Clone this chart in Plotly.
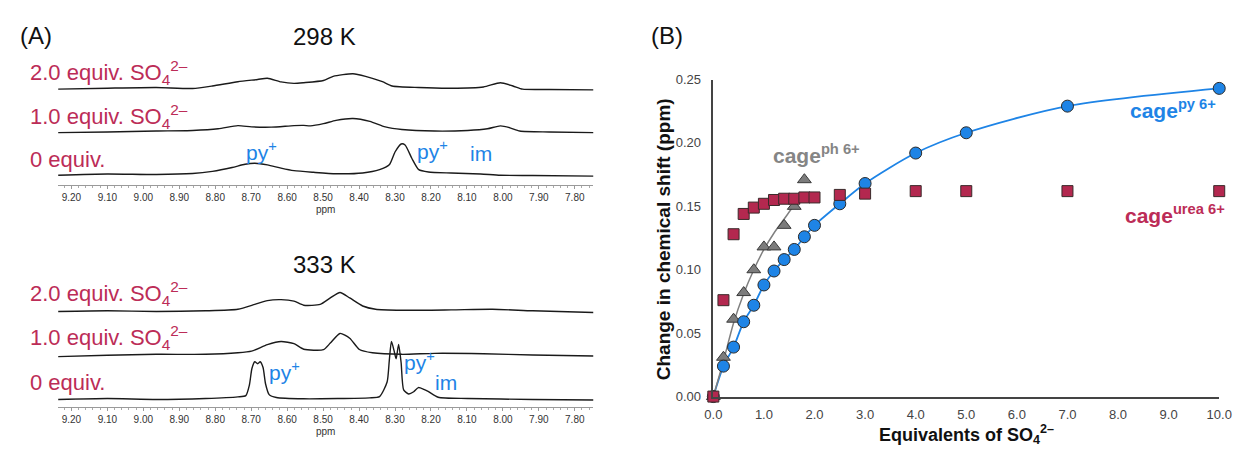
import plotly.graph_objects as go

# ---------------- DATA ----------------
# Panel A: 1H NMR traces (ppm, intensity, arbitrary units)
ppm_298_0 = [9.237, 9.100, 8.964, 8.863, 8.808, 8.753, 8.717, 8.690, 8.655, 8.617, 8.581, 8.527, 8.464, 8.390,
             8.343, 8.316, 8.300, 8.283, 8.272, 8.253, 8.234, 8.207, 8.144, 8.062, 8.007, 7.917, 7.748]
int_298_0 = [2, 3.3, 2.7, 3.7, 6, 10, 13.3, 14.3, 12.7, 9.3, 6.7, 5, 3.5, 4.3,
             7.7, 12.7, 26, 34.3, 33.3, 19.3, 7.7, 5.3, 4.3, 3.3, 2, 1.7, 1]

ppm_298_1 = [9.237, 9.100, 8.964, 8.863, 8.792, 8.737, 8.699, 8.644, 8.581, 8.554, 8.535, 8.499, 8.464, 8.417,
             8.370, 8.327, 8.281, 8.190, 8.098, 8.043, 8.007, 7.980, 7.953, 7.871, 7.748]
int_298_1 = [1, 1.7, 2.7, 3.3, 5, 8.3, 7, 6.7, 8.3, 8.5, 8.0, 10.3, 13.7, 15.7,
             12.7, 7, 4.3, 2.7, 3.3, 5, 8, 6, 2.7, 1.7, 1]

ppm_298_2 = [9.237, 9.100, 8.964, 8.863, 8.808, 8.737, 8.682, 8.655, 8.617, 8.581, 8.554, 8.499, 8.472, 8.417,
             8.382, 8.335, 8.308, 8.234, 8.144, 8.054, 8.007, 7.972, 7.945, 7.871, 7.748]
int_298_2 = [1, 2, 2.7, 1.7, 4.3, 8.7, 11, 12.3, 8.5, 7, 7.7, 10, 14.3, 17,
             14.3, 8.7, 4.3, 2.7, 2, 3.3, 7.7, 4.3, 1, 0.7, 0.3]

ppm_333_0 = [9.237, 9.100, 8.964, 8.827, 8.737, 8.715, 8.705, 8.698, 8.690, 8.682, 8.675, 8.667, 8.660, 8.650,
             8.630, 8.554, 8.371, 8.343, 8.322, 8.316, 8.310, 8.303, 8.297, 8.290, 8.283, 8.276, 8.262, 8.248,
             8.235, 8.220, 8.208, 8.180, 8.098, 7.917, 7.748]
int_333_0 = [0, 1, 0, 1, 2.7, 4, 15, 32, 39, 37, 39, 33, 16, 5,
             2, 0.7, 1.7, 3, 18, 40, 60, 51, 42, 57, 38, 10, 5.7, 8,
             12.3, 10.5, 8.3, 2.3, 1, 0, -0.5]

ppm_333_1 = [9.237, 9.100, 8.964, 8.827, 8.737, 8.699, 8.655, 8.617, 8.581, 8.554, 8.499, 8.480, 8.453, 8.426,
             8.399, 8.363, 8.281, 8.190, 8.054, 7.917, 7.748]
int_333_1 = [-0.7, 0.7, 1.7, 1.7, 3.3, 5, 11.7, 15, 12.7, 7, 6.5, 13.3, 23.3, 18.3,
             6.7, 3.3, 1.7, 2.7, 2.3, 1, 0]

ppm_333_2 = [9.237, 9.100, 8.964, 8.827, 8.737, 8.690, 8.655, 8.617, 8.581, 8.554, 8.508, 8.480, 8.453, 8.426,
             8.390, 8.354, 8.281, 8.144, 8.029, 7.917, 7.748]
int_333_2 = [1, 1.7, 1, 1.7, 3.3, 8.3, 12.3, 13.3, 11.7, 7.5, 8.3, 15, 20.7, 15,
             6.7, 3.3, 2.3, 2.7, 3.3, 1.7, 0]

nmr_ticks = [9.2, 9.1, 9.0, 8.9, 8.8, 8.7, 8.6, 8.5, 8.4, 8.3, 8.2, 8.1, 8.0, 7.9, 7.8]
nmr_ticktext = ["9.20", "9.10", "9.00", "8.90", "8.80", "8.70", "8.60", "8.50", "8.40", "8.30",
                "8.20", "8.10", "8.00", "7.90", "7.80"]
trace_labels = ["2.0 equiv. SO<sub>4</sub><sup>2\u2013</sup>", "1.0 equiv. SO<sub>4</sub><sup>2\u2013</sup>", "0 equiv."]

# Panel B: titration data
eq_py = [0, 0.2, 0.4, 0.6, 0.8, 1.0, 1.2, 1.4, 1.6, 1.8, 2.0, 2.5, 3.0, 4.0, 5.0, 7.0, 10.0]
shift_py = [0, 0.024, 0.039, 0.059, 0.072, 0.088, 0.099, 0.108, 0.116, 0.126, 0.135, 0.152, 0.168,
            0.192, 0.208, 0.229, 0.243]

eq_urea = [0, 0.2, 0.4, 0.6, 0.8, 1.0, 1.2, 1.4, 1.6, 1.8, 2.0, 2.5, 3.0, 4.0, 5.0, 7.0, 10.0]
shift_urea = [0, 0.076, 0.128, 0.144, 0.149, 0.152, 0.155, 0.156, 0.156, 0.157, 0.157, 0.159, 0.160,
              0.162, 0.162, 0.162, 0.162]

eq_ph = [0, 0.2, 0.4, 0.6, 0.8, 1.0, 1.2, 1.4, 1.6, 1.8]
shift_ph = [0, 0.031, 0.061, 0.082, 0.100, 0.118, 0.118, 0.135, 0.150, 0.171]
fit_ph_x = [0, 0.2, 0.4, 0.6, 0.8, 1.0, 1.2, 1.4, 1.6, 1.8]
fit_ph_y = [0, 0.028, 0.058, 0.081, 0.100, 0.116, 0.129, 0.140, 0.151, 0.161]

b_xticks = [0, 1, 2, 3, 4, 5, 6, 7, 8, 9, 10]
b_xticktext = ["0.0", "1.0", "2.0", "3.0", "4.0", "5.0", "6.0", "7.0", "8.0", "9.0", "10.0"]
b_yticks = [0, 0.05, 0.10, 0.15, 0.20, 0.25]
b_yticktext = ["0.00", "0.05", "0.10", "0.15", "0.20", "0.25"]

# ---------------- STYLE ----------------
W, H = 1245, 450
FONT = "Arial, Liberation Sans, sans-serif"
CRIMSON = "#BC2C57"
SQ = "#B3284F"
BLUE = "#1E84E6"
GRAY = "#7C7C7C"


def px(x):
    return x / W


def py(y):
    return 1 - y / H


fig = go.Figure()

# NMR panels
offsets = [98, 53, 8]  # stacking offsets of 2.0 / 1.0 / 0 equiv traces
sets = [
    ("x", "y", [(ppm_298_2, int_298_2), (ppm_298_1, int_298_1), (ppm_298_0, int_298_0)]),
    ("x2", "y2", [(ppm_333_2, int_333_2), (ppm_333_1, int_333_1), (ppm_333_0, int_333_0)]),
]
for xa, ya, trs in sets:
    for (pp, ii), off in zip(trs, offsets):
        fig.add_trace(go.Scatter(x=pp, y=[v + off for v in ii], mode="lines", xaxis=xa, yaxis=ya,
                                 line=dict(color="#1a1a1a", width=1.4, shape="spline", smoothing=0.6),
                                 showlegend=False, hoverinfo="skip"))

# Panel B
fig.add_trace(go.Scatter(x=eq_py, y=shift_py, mode="lines", xaxis="x3", yaxis="y3",
                         line=dict(color=BLUE, width=1.8, shape="spline", smoothing=0.8),
                         showlegend=False))
fig.add_trace(go.Scatter(x=fit_ph_x, y=fit_ph_y, mode="lines", xaxis="x3", yaxis="y3",
                         line=dict(color="#808080", width=1.5, shape="spline", smoothing=0.8),
                         showlegend=False))
fig.add_trace(go.Scatter(x=eq_ph, y=shift_ph, mode="markers", xaxis="x3", yaxis="y3", cliponaxis=False,
                         marker=dict(symbol="triangle-up", size=12, color=GRAY,
                                     line=dict(color="#3a3a3a", width=1)),
                         showlegend=False))
fig.add_trace(go.Scatter(x=eq_py, y=shift_py, mode="markers", xaxis="x3", yaxis="y3", cliponaxis=False,
                         marker=dict(symbol="circle", size=12, color=BLUE,
                                     line=dict(color="#2a2a2a", width=1)),
                         showlegend=False))
fig.add_trace(go.Scatter(x=eq_urea, y=shift_urea, mode="markers", xaxis="x3", yaxis="y3", cliponaxis=False,
                         marker=dict(symbol="square", size=11, color=SQ,
                                     line=dict(color="#3a2a2a", width=1)),
                         showlegend=False))

nmr_x = dict(range=[9.237, 7.748], tickvals=nmr_ticks, ticktext=nmr_ticktext,
             showline=True, linecolor="#9a9a9a", linewidth=1, ticks="outside", ticklen=3,
             tickcolor="#9a9a9a", tickwidth=1,
             minor=dict(dtick=0.02, ticks="outside", ticklen=2, tickcolor="#aaaaaa", tick0=9.2),
             showgrid=False, zeroline=False,
             tickfont=dict(family=FONT, size=10, color="#333333"), fixedrange=True)
nmr_y = dict(range=[0, 124], visible=False, fixedrange=True)

fig.update_layout(
    width=W, height=H, margin=dict(l=0, r=0, t=0, b=0),
    paper_bgcolor="white", plot_bgcolor="white",
    font=dict(family=FONT),
    xaxis=dict(domain=[px(50), px(595)], anchor="y", **nmr_x),
    yaxis=dict(domain=[py(184), py(60)], anchor="x", **nmr_y),
    xaxis2=dict(domain=[px(50), px(595)], anchor="y2", **nmr_x),
    yaxis2=dict(domain=[py(414), py(290)], anchor="x2", **nmr_y),
    xaxis3=dict(domain=[px(717), px(1232)], anchor="y3", range=[0, 10], tickvals=b_xticks,
                ticktext=b_xticktext, showline=True, linecolor="#444444", linewidth=1.5,
                ticks="", showgrid=False, zeroline=False, ticklabelstandoff=5,
                tickfont=dict(family=FONT, size=13, color="#444444"), fixedrange=True),
    yaxis3=dict(domain=[py(403), py(75)], anchor="x3", range=[0, 0.25], tickvals=b_yticks,
                ticktext=b_yticktext, showline=True, linecolor="#444444", linewidth=1.5,
                ticks="", showgrid=False, zeroline=False, ticklabelstandoff=8,
                tickfont=dict(family=FONT, size=13, color="#444444"), fixedrange=True),
)

ann = []


def add(text, x, y, size, color, xanchor="center", bold=False, angle=0):
    if bold:
        text = "<b>" + text + "</b>"
    ann.append(dict(text=text, x=px(x), y=py(y), xref="paper", yref="paper", showarrow=False,
                    xanchor=xanchor, yanchor="middle", textangle=angle,
                    font=dict(family=FONT, size=size, color=color)))


add("(A)", 27, 29, 24, "#111111")
add("(B)", 670, 29, 24, "#111111")
add("298 K", 321, 31, 24, "#111111")
add("333 K", 321, 266, 24, "#111111")
add("ppm", 322, 209, 10, "#333333")
add("ppm", 322, 439, 10, "#333333")

for lab, yy in zip(trace_labels, [68, 113, 158]):
    add(lab, 19, yy, 22, CRIMSON, xanchor="left")
for lab, yy in zip(trace_labels, [296, 342, 388]):
    add(lab, 19, yy, 22, CRIMSON, xanchor="left")

add("py<sup>+</sup>", 257, 149, 21, BLUE)
add("py<sup>+</sup>", 431, 148, 21, BLUE)
add("im", 480, 152, 21, BLUE)
add("py<sup>+</sup>", 280, 377, 21, BLUE)
add("py<sup>+</sup>", 418, 366, 21, BLUE)
add("im", 445, 388, 21, BLUE)

add("cage<sup>py 6+</sup>", 1185, 106, 21, BLUE, bold=True)
add("cage<sup>urea 6+</sup>", 1187, 214, 21, CRIMSON, bold=True)
add("cage<sup>ph 6+</sup>", 822, 152, 21, "#858585", bold=True)

add("Change in chemical shift (ppm)", 666, 240, 19, "#111111", bold=True, angle=-90)
add("Equivalents of SO<sub>4</sub><sup>2\u2013</sup>", 975, 442, 18, "#111111", bold=True)

fig.update_layout(annotations=ann)
fig.write_html("out.html", config={"displayModeBar": False},
               post_script="document.body.style.margin='0';document.body.style.overflow='hidden';")
